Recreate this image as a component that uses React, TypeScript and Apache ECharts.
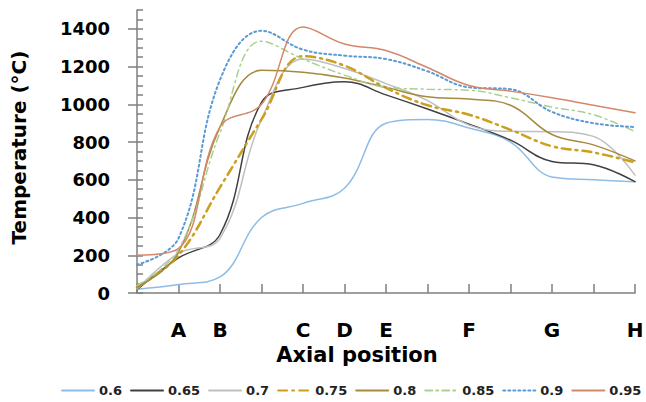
import React, { useEffect, useRef } from "react";
import * as echarts from "echarts";

const positions = ["", "A", "B", "", "C", "D", "E", "", "F", "", "G", "", "H"];
const seriesNames = ["0.6", "0.65", "0.7", "0.75", "0.8", "0.85", "0.9", "0.95"];

const s060 = [20, 45, 85, 400, 475, 555, 900, 920, 875, 800, 615, 600, 590];
const s065 = [18, 186, 310, 1010, 1090, 1120, 1050, 975, 895, 810, 697, 680, 590];
const s070 = [20, 210, 290, 920, 1240, 1190, 1110, 1020, 890, 857, 855, 830, 625];
const s075 = [30, 200, 560, 920, 1255, 1205, 1087, 995, 945, 865, 778, 745, 692];
const s080 = [30, 215, 880, 1180, 1170, 1140, 1090, 1040, 1028, 995, 840, 785, 700];
const s085 = [40, 230, 850, 1335, 1240, 1155, 1090, 1080, 1075, 1035, 985, 945, 855];
const s090 = [150, 290, 1130, 1390, 1290, 1258, 1240, 1175, 1090, 1080, 960, 900, 880];
const s095 = [200, 235, 880, 1000, 1410, 1320, 1285, 1195, 1100, 1070, 1035, 995, 955];

const yTicks = [0, 200, 400, 600, 800, 1000, 1200, 1400];

const values = [s060, s065, s070, s075, s080, s085, s090, s095];
const colors = ["#8fbce6", "#404040", "#bfbfbf", "#cc9f1f", "#a68a3e", "#a9d18e", "#5b9bd5", "#d4876a"];
const widths = [1.5, 1.5, 1.5, 2.5, 1.5, 1.5, 2, 1.5];
const dashes: any[] = ["solid", "solid", "solid", [9, 5, 2, 5], "solid", [7, 4, 2, 4], [2, 3], "solid"];

const FONT = "DejaVu Sans";

export default function App() {
  const ref = useRef<HTMLDivElement>(null);
  useEffect(() => {
    if (!ref.current) return;
    const chart = echarts.init(ref.current, null, { renderer: "svg" });
    chart.setOption({
      animation: false,
      backgroundColor: "#ffffff",
      grid: { left: 137, right: 11, top: 10, bottom: 109, containLabel: false, outerBoundsMode: "none" },
      legend: {
        left: 56,
        top: 379,
        width: 600,
        itemWidth: 32,
        itemHeight: 14,
        itemGap: 8,
        data: seriesNames,
        itemStyle: { opacity: 0 },
        textStyle: { fontFamily: FONT, fontWeight: "bold", fontSize: 13, color: "#222" },
      },
      xAxis: {
        type: "category",
        data: positions,
        boundaryGap: false,
        axisLine: { lineStyle: { color: "#7f7f7f", width: 1.5 } },
        axisTick: { show: true, inside: true, length: 9, interval: 0, lineStyle: { color: "#7f7f7f", width: 1.5 } },
        axisLabel: { interval: 0, margin: 27, fontFamily: FONT, fontWeight: "bold", fontSize: 20, color: "#000" },
        name: "Axial position",
        nameLocation: "middle",
        nameGap: 51,
        nameTextStyle: { fontFamily: FONT, fontWeight: "bold", fontSize: 21, color: "#000", padding: [0, 58, 0, 0] },
        splitLine: { show: false },
      },
      yAxis: [
        {
          type: "value",
          min: 0,
          max: 1500,
          interval: 100,
          position: "left",
          axisLine: { show: true, lineStyle: { color: "#7f7f7f", width: 1.5 } },
          axisTick: { show: true, inside: false, length: 9, customValues: yTicks, lineStyle: { color: "#7f7f7f", width: 1.5 } },
          axisLabel: {
            margin: 27,
            customValues: yTicks,
            formatter: (v: number) => String(v),
            fontFamily: FONT,
            fontWeight: "bold",
            fontSize: 18,
            color: "#000",
          },
          splitLine: { show: false },
          name: "Temperature (°C)",
          nameLocation: "middle",
          nameRotate: 90,
          nameGap: 108,
          nameTextStyle: { fontFamily: FONT, fontWeight: "bold", fontSize: 20, color: "#000", padding: [0, 0, 0, 8] },
        },
        {
          type: "value",
          min: 0,
          max: 1500,
          interval: 50,
          position: "left",
          axisLine: { show: false },
          axisTick: { show: true, inside: true, length: 6, lineStyle: { color: "#7f7f7f", width: 1.5 } },
          axisLabel: { show: false },
          splitLine: { show: false },
        },
      ],
      series: seriesNames.map((name, i) => ({
        name,
        type: "line",
        data: values[i],
        smooth: 0.4,
        symbol: "none",
        showSymbol: false,
        yAxisIndex: 0,
        lineStyle: { color: colors[i], width: widths[i], type: dashes[i], cap: "round" },
        itemStyle: { color: colors[i] },
        z: 2 + i,
      })),
    });
    return () => chart.dispose();
  }, []);
  return <div ref={ref} style={{ width: 646, height: 402, position: "absolute", left: 0, top: 0 }} />;
}
